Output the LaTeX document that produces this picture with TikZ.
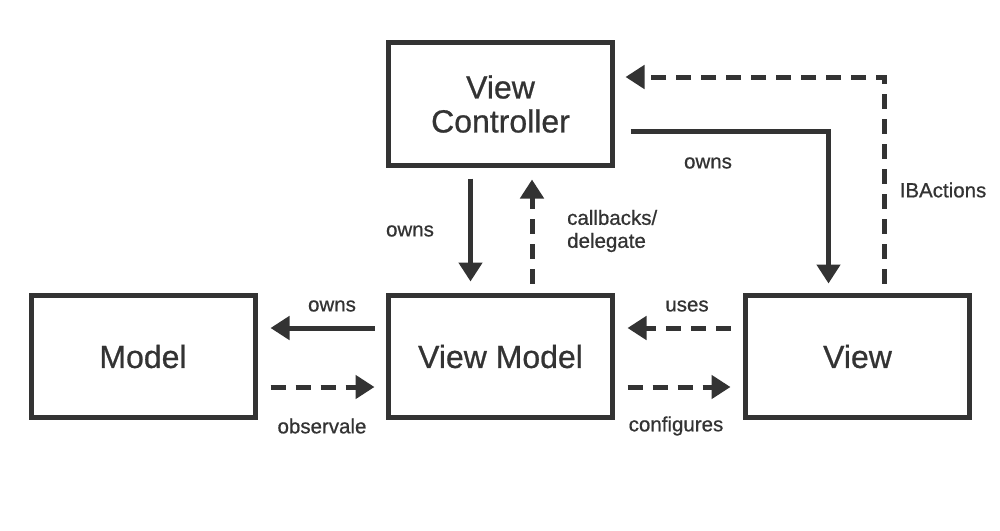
\documentclass[tikz,border=0pt]{standalone}
\usepackage{fontspec}
\setmainfont{Liberation Sans}
\newfontfamily\medfont[FakeBold=0.7]{Liberation Sans}
\usetikzlibrary{arrows.meta,calc}
\definecolor{ink}{HTML}{333333}
\begin{document}
\begin{tikzpicture}[x=1pt,y=-1pt,
  box/.style={draw=ink,line width=5pt,minimum width=224pt,minimum height=122pt,inner sep=0pt,text=ink,font=\medfont\fontsize{32}{34}\selectfont,align=center},
  conn/.style={draw=ink,line width=5pt,-{Triangle[length=19pt,width=23pt]}},
  dconn/.style={conn,dash pattern=on 15pt off 10pt},
  lbl/.style={text=ink,font=\medfont\fontsize{20.5}{23}\selectfont,inner sep=0pt,align=left}]
\useasboundingbox[fill=white] (0,0) rectangle (1000,530);
\node[box] (model) at (143,356.5) {Model};
\node[box] (vm) at (500.5,356.5) {View Model};
\node[box] (view) at (857.5,356.5) {View};
\node[box,minimum height=123pt] (vc) at (500.5,104) {View\\Controller};
% bottom row
\draw[conn] ($(vm.west)+(-11.5,-28.5)$) -- ($(model.east)+(13,-28.5)$);
\draw[dconn] ($(model.east)+(13,30.5)$) -- ($(vm.west)+(-11.5,30.5)$);
\draw[dconn] ($(view.west)+(-12.5,-28.5)$) -- ($(vm.east)+(12.5,-28.5)$);
\draw[dconn] ($(vm.east)+(12.5,30.5)$) -- ($(view.west)+(-12.5,30.5)$);
% vertical
\draw[conn] ($(vc.south)+(-30,10.5)$) -- ($(vm.north)+(-30,-11.5)$);
\draw[dconn] ($(vm.north)+(31.5,-9.5)$) -- ($(vc.south)+(31.5,11.5)$);
% view controller <-> view
\draw[conn] ($(vc.east)+(15.5,27)$) -| ($(view.north)+(-29,-9.5)$);
\draw[dconn] ($(view.north)+(27,-9.5)$) |- ($(vc.east)+(10.5,-27)$);
% labels
\node[lbl] (l1) at (410,231) {owns};
\node[lbl,anchor=west] (l2) at (567,231) {callbacks/\\delegate};
\node[lbl] (l3) at (708,163) {owns};
\node[lbl] (l4) at (943,190) {IBActions};
\node[lbl] (l5) at (332,306) {owns};
\node[lbl] (l6) at (322,426) {observale};
\node[lbl] (l7) at (687,306) {uses};
\node[lbl] (l8) at (676,426) {configures};
\end{tikzpicture}
\end{document}
